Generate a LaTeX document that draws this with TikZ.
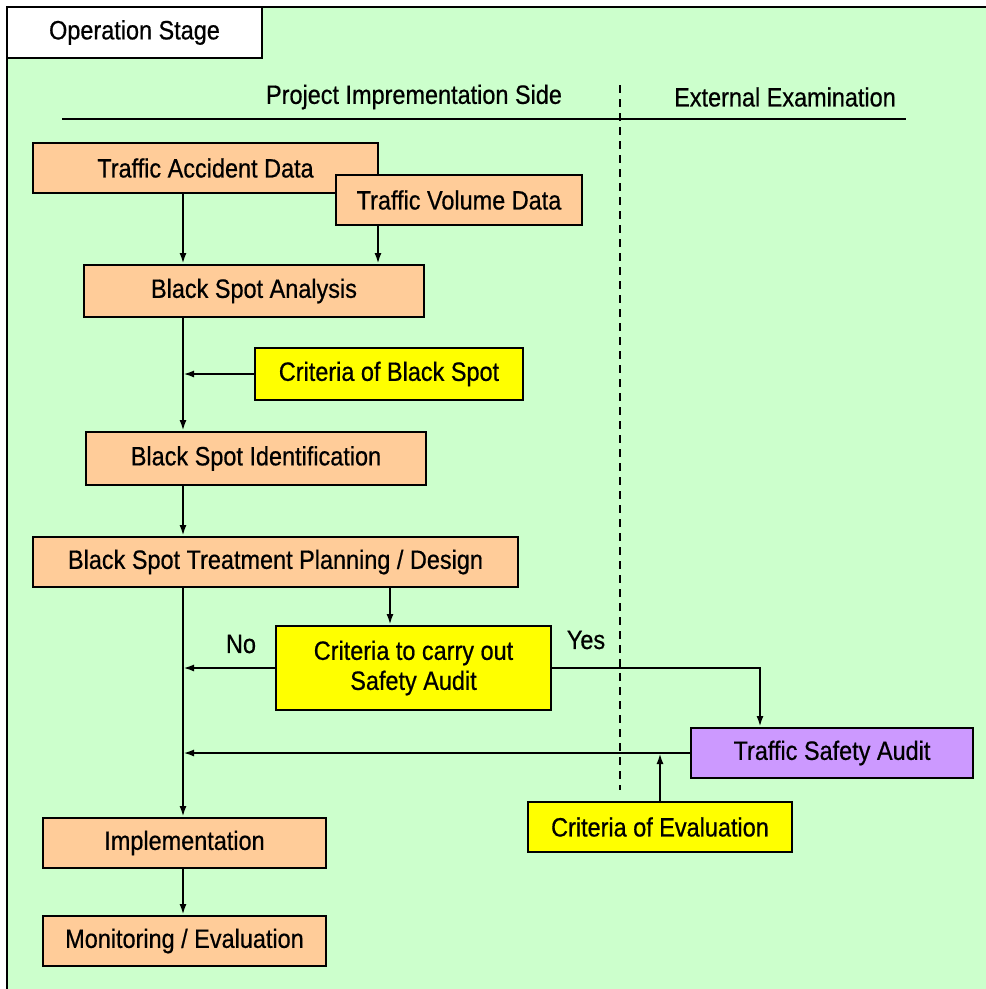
\documentclass[tikz,border=0pt]{standalone}
\usepackage{fontspec}
\setmainfont{Liberation Sans}[FakeStretch=0.885,FakeBold=0.6]
\usetikzlibrary{arrows.meta}
\definecolor{bgreen}{HTML}{CCFFCC}
\definecolor{peach}{HTML}{FFCC99}
\definecolor{yel}{HTML}{FFFF00}
\definecolor{lav}{HTML}{CC99FF}
\begin{document}
\begin{tikzpicture}[x=1pt,y=-1pt,
  box/.style={draw, line width=2pt, inner sep=0pt, align=center, font=\fontsize{26.5}{30}\selectfont},
  lbl/.style={inner sep=0pt, font=\fontsize{26.5}{30}\selectfont},
  arr/.style={-{Latex[length=11pt,width=7pt]}, line width=2.2pt},
]
\useasboundingbox (0,0) rectangle (986,989);
\fill[white] (0,0) rectangle (986,989);
\fill[bgreen] (7,7) rectangle (986,989);
\draw[line width=2pt] (7,989) -- (7,7) -- (986,7);
% header
\node[box, fill=white, minimum width=255, minimum height=51] (op) at (134.5,32.5) {\raisebox{-1.5pt}{Operation Stage}};
\node[lbl] (pis) at (414,97) {Project Imprementation Side};
\node[lbl] (ext) at (785,97) {External Examination};
\coordinate (hl) at (62,119);
\coordinate (hr) at (906,119);
\draw[line width=2pt] (hl) -- (hr);
\coordinate (dt) at (620,85);
\coordinate (db) at (620,790);
\draw[line width=1.5pt, dash pattern=on 8pt off 6pt] (dt) -- (db);
% boxes
\node[box, fill=peach, minimum width=345, minimum height=50] (tad) at (205.5,168) {Traffic Accident Data};
\node[box, fill=peach, minimum width=246, minimum height=50] (tvd) at (459,200) {Traffic Volume Data};
\node[box, fill=peach, minimum width=340, minimum height=52] (bsa) at (254,291) {Black Spot Analysis};
\node[box, fill=yel, minimum width=268, minimum height=52] (cobs) at (389,374) {Criteria of Black Spot};
\node[box, fill=peach, minimum width=340, minimum height=53] (bsi) at (256,458.5) {Black Spot Identification};
\node[box, fill=peach, minimum width=485, minimum height=50] (bstp) at (275.5,562) {Black Spot Treatment Planning / Design};
\node[box, fill=yel, minimum width=275, minimum height=84] (ctc) at (413.5,668) {Criteria to carry out\\Safety Audit};
\node[box, fill=lav, minimum width=282, minimum height=50] (tsa) at (832,753) {Traffic Safety Audit};
\node[box, fill=yel, minimum width=264, minimum height=50] (coe) at (660,827) {Criteria of Evaluation};
\node[box, fill=peach, minimum width=283, minimum height=50] (impl) at (184.5,843) {Implementation};
\node[box, fill=peach, minimum width=283, minimum height=50] (mon) at (184.5,941) {Monitoring / Evaluation};
% connectors
\coordinate (mx) at (183,0);
\coordinate (vx) at (378,0);
\coordinate (cx) at (390,0);
\coordinate (yx) at (760,0);
\draw[arr] (tad.south -| mx) -- (bsa.north -| mx);
\draw[arr] (tvd.south -| vx) -- (bsa.north -| vx);
\draw[arr] (bsa.south -| mx) -- (bsi.north -| mx);
\draw[arr] (cobs.west) -- (cobs.west -| mx);
\draw[arr] (bsi.south -| mx) -- (bstp.north -| mx);
\draw[arr] (bstp.south -| cx) -- (ctc.north -| cx);
\draw[arr] (bstp.south -| mx) -- (impl.north -| mx);
\draw[arr] (ctc.west) -- (ctc.west -| mx);
\draw[arr] (ctc.east) -| (tsa.north -| yx);
\draw[arr] (tsa.west) -- (tsa.west -| mx);
\draw[arr] (coe.north) -- (coe.north |- tsa.west);
\draw[arr] (impl.south -| mx) -- (mon.north -| mx);
\node[lbl] (no) at (241,644) {No};
\node[lbl] (yes) at (586,640) {Yes};
\end{tikzpicture}
\end{document}
